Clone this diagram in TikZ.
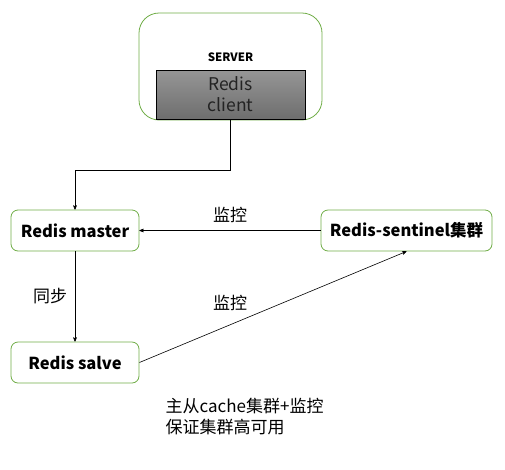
\documentclass[tikz,border=0pt]{standalone}
\usepackage{fontspec}
\setmainfont{Noto Sans CJK SC}
\usetikzlibrary{arrows}
\definecolor{box_green}{RGB}{112,173,71}
\definecolor{client_top}{RGB}{150,150,150}
\definecolor{client_bot}{RGB}{110,110,110}
\definecolor{client_text}{RGB}{35,35,35}

\begin{document}
\begin{tikzpicture}[->,semithick,>=stealth',x=1pt,y=-1pt]
    \tikzstyle{box}=[draw=box_green, thick, rectangle, rounded corners=7pt, minimum width=128pt, minimum height=41pt, fill=white, text=black, font=\fontsize{16.5}{20}\selectfont\bfseries]
    \tikzstyle{server}=[style=box, rounded corners=20pt, minimum width=183pt, minimum height=107pt]
    \tikzstyle{client}=[draw=black, thick, rectangle, minimum width=149pt, minimum height=49pt, top color=client_top, bottom color=client_bot, text=client_text, align=center, font=\fontsize{17.5}{21}\selectfont]
    \tikzstyle{lbl}=[font=\fontsize{17}{21}\selectfont, text=black]

    \useasboundingbox (0,0) rectangle (505,469);

    \node[server] (srv) at (230.5,66.5) {};
    \node[font=\fontsize{11.5}{13}\selectfont\bfseries] (srvname) at (230.5,57) {SERVER};
    \node[client] (client) at (230.5,94.5) {Redis\\client};
    \node[box] (master) at (75,230.5) {Redis master};
    \node[box, minimum width=171pt] (sentinel) at (406.5,230.5) {Redis-sentinel集群};
    \node[box] (slave) at (75,362.5) {Redis salve};
    \coordinate (bend) at (230.5,170);

    \node[lbl] (mon1) at (230,215) {监控};
    \node[lbl] (sync) at (50,296) {同步};
    \node[lbl] (mon2) at (230,303) {监控};
    \node[lbl, align=left, anchor=west] (note) at (162,416.5) {主从cache集群+监控\\保证集群高可用};

    \draw (client.south) -- (bend) -| (master.north);
    \path
     (sentinel) edge (master)
     (master) edge (slave)
     (slave.east) edge (sentinel.south)
     ;
\end{tikzpicture}
\end{document}
